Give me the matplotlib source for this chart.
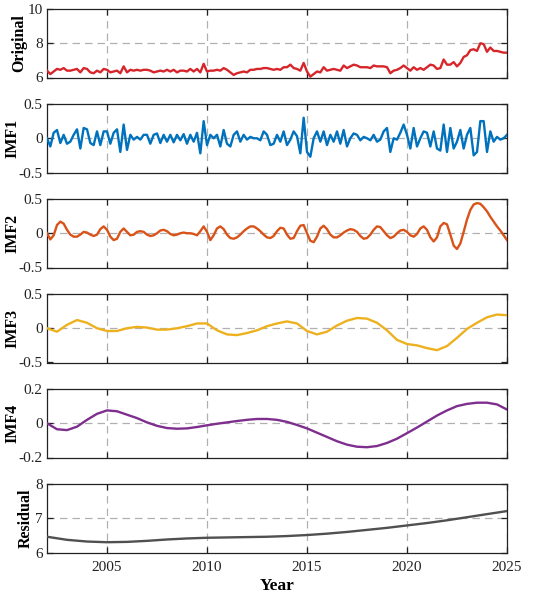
import numpy as np
import matplotlib
matplotlib.use('Agg')
import matplotlib.pyplot as plt

plt.rcParams['font.family'] = ['Liberation Serif', 'DejaVu Serif']

# Data (bimonthly for the fast series, coarser for the smooth ones)
original = [6.4, 6.2, 6.35, 6.5, 6.45, 6.55, 6.4, 6.4, 6.45, 6.5, 6.3, 6.55, 6.5, 6.3, 6.25, 6.4, 6.3, 6.5, 6.45,
            6.3, 6.35, 6.4, 6.25, 6.65, 6.3, 6.45, 6.4, 6.45, 6.4, 6.45, 6.45, 6.4, 6.3, 6.35, 6.4, 6.35, 6.45,
            6.35, 6.45, 6.3, 6.4, 6.4, 6.35, 6.5, 6.35, 6.5, 6.3, 6.8, 6.35,
            6.4, 6.4, 6.45, 6.4, 6.55, 6.45, 6.3, 6.15, 6.25, 6.3, 6.35, 6.3, 6.45, 6.45, 6.5, 6.5, 6.55, 6.55,
            6.5, 6.45, 6.5, 6.45, 6.6, 6.6, 6.75, 6.55, 6.5, 6.4, 6.85, 6.35,
            6.05, 6.2, 6.35, 6.3, 6.6, 6.4, 6.45, 6.5, 6.45, 6.4, 6.7, 6.55, 6.65, 6.75, 6.7, 6.6, 6.6, 6.6,
            6.55, 6.7, 6.65, 6.65, 6.65, 6.6, 6.25, 6.4, 6.45, 6.55, 6.7, 6.55,
            6.4, 6.6, 6.45, 6.55, 6.45, 6.6, 6.75, 6.7, 6.5, 6.55, 7.05, 6.75, 6.75, 6.9, 6.65, 6.85, 7.2, 7.3,
            7.6, 7.65, 7.55, 8.0, 7.95, 7.5, 7.75, 7.55, 7.55, 7.5, 7.45, 7.45]

imf1 = [0, -0.12, 0.08, 0.12, -0.07, 0.05, -0.08, -0.05, 0.05, 0.13,
        -0.15, 0.15, 0.13, -0.07, -0.1, 0.1, -0.1, 0.1, 0.1, -0.08,
        0.08, 0.13, -0.2, 0.2, -0.17, 0.05, -0.02, 0.02, -0.02, 0.05,
        0.05, -0.08, 0.05, 0.07, -0.07, 0.05, -0.05, 0.05, -0.06, 0.05,
        -0.03, 0.06, -0.08, 0.05, -0.05, 0.08, -0.22, 0.25, -0.1,
        0.05, 0.0, 0.05, -0.12, 0.12, -0.08, -0.12, 0.05, 0.1, -0.05,
        0.05, -0.02, 0.02, 0.0, 0.0, -0.03, 0.1, 0.05, -0.1, -0.08,
        0.05, -0.05, 0.1, -0.1, -0.02, 0.1, 0.03, -0.22, 0.3, -0.2,
        -0.27,
        0.0, 0.1, -0.05, 0.1, -0.1, 0.05, -0.05, 0.1, -0.08, 0.12,
        -0.12, 0.0, 0.07, 0.05, -0.03, 0.02, 0.0, -0.03, 0.05, -0.05,
        -0.02, 0.1, 0.15, -0.2, 0.0, -0.02, 0.08, 0.2, 0.05,
        -0.15, 0.15, -0.12, 0.0, 0.1, 0.08, -0.12, 0.1, -0.15, -0.18,
        0.2, -0.2, 0.15, -0.15, -0.05, 0.12, -0.15, 0.05, 0.15, -0.25,
        -0.2, 0.25, 0.25, -0.2, 0.1, -0.05, 0.02, -0.02, 0.0, 0.05]

imf2 = [0.0, -0.09, -0.03, 0.12, 0.17, 0.14, 0.05, -0.02, -0.05, -0.05,
        -0.02, 0.02, 0.01, -0.02, -0.04, -0.02, 0.06, 0.1, 0.05, -0.05,
        -0.1, -0.08, 0.02, 0.07, 0.02, -0.03, -0.02, 0.02, 0.03, 0.02,
        -0.02, -0.04, -0.03, 0.0, 0.04, 0.05, 0.03, -0.01, -0.03, -0.02,
        0.0, 0.01, 0.0, 0.0, -0.01, -0.03, 0.03, 0.1, 0.02, -0.1,
        -0.03, 0.07, 0.1, 0.06, -0.02, -0.07, -0.08, -0.06, -0.02, 0.03,
        0.07, 0.1, 0.1, 0.07, 0.03, -0.02, -0.06, -0.07, -0.04, 0.03,
        0.08, 0.07, -0.02, -0.08, -0.07, 0.03, 0.11, 0.12, 0.0, -0.11,
        -0.13, -0.05, 0.07, 0.11, 0.06, -0.02, -0.06, -0.06, -0.03, 0.01,
        0.04, 0.06, 0.05, 0.02, -0.04, -0.08, -0.07, -0.02, 0.05, 0.1,
        0.09, 0.03, -0.03, -0.07, -0.05, 0.0, 0.04, 0.05, 0.02, -0.03,
        -0.05, -0.01, 0.07, 0.1, 0.05, -0.06, -0.12, -0.06, 0.1, 0.15,
        0.13, -0.02, -0.18, -0.23, -0.15, 0.02, 0.2, 0.34, 0.42, 0.44,
        0.43, 0.38, 0.32, 0.24, 0.17, 0.1, 0.04, -0.03, -0.1]

# half-year steps
imf3 = [0.0, -0.05, 0.05, 0.12, 0.08, 0.0, -0.04, -0.04, 0.0, 0.02,
        0.01, -0.02, -0.02, 0.0, 0.03, 0.07, 0.07, -0.03, -0.09, -0.1,
        -0.07, -0.03, 0.03, 0.07, 0.1, 0.07, -0.04, -0.09, -0.05, 0.04,
        0.11, 0.15, 0.14, 0.08, -0.03, -0.17, -0.23, -0.25, -0.29, -0.32,
        -0.26, -0.14, -0.01, 0.08, 0.16, 0.2, 0.19]

imf4 = [0.0, -0.035, -0.04, -0.02, 0.02, 0.055, 0.075, 0.07, 0.05, 0.03,
        0.005, -0.015, -0.028, -0.032, -0.03, -0.022, -0.012, -0.003, 0.005, 0.013,
        0.02, 0.025, 0.025, 0.02, 0.008, -0.01, -0.03, -0.055, -0.08, -0.105,
        -0.125, -0.137, -0.14, -0.133, -0.115, -0.09, -0.058, -0.025, 0.01, 0.045,
        0.075, 0.1, 0.113, 0.12, 0.12, 0.11, 0.08]

# yearly steps
residual = [6.46, 6.37, 6.32, 6.30, 6.31, 6.34, 6.38, 6.41, 6.43, 6.44, 6.45, 6.46,
            6.48, 6.51, 6.55, 6.60, 6.66, 6.72, 6.79, 6.86, 6.94, 7.03, 7.12, 7.21]

names = ['Original', 'IMF1', 'IMF2', 'IMF3', 'IMF4', 'Residual']
series = [original, imf1, imf2, imf3, imf4, residual]
colors = ['#D7262B', '#0072BD', '#D95319', '#EDB120', '#7E2F8E', '#505050']
yticks = [[6, 8, 10], [-0.5, 0, 0.5], [-0.5, 0, 0.5], [-0.5, 0, 0.5], [-0.2, 0, 0.2], [6, 7, 8]]
yticklabels = [['6', '8', '10'], ['-0.5', '0', '0.5'], ['-0.5', '0', '0.5'], ['-0.5', '0', '0.5'],
               ['-0.2', '0', '0.2'], ['6', '7', '8']]
xticks = [2005, 2010, 2015, 2020, 2025]
t0, t1 = 2002, 2025

W, H = 550, 595
fig = plt.figure(figsize=(W / 100, H / 100), dpi=100)
tops = [9, 104, 199, 294, 389, 484]
left, right, ph = 47, 507, 68.5
dash = (0, (6, 4))
# ylabel offsets follow the tick label widths (MATLAB style)
label_x = [-0.042, -0.057, -0.057, -0.057, -0.057, -0.029]

for k in range(6):
    ax = fig.add_axes([left / W, 1 - (tops[k] + ph) / H, (right - left) / W, ph / H])
    y = series[k]
    x = t0 + np.arange(len(y)) * (t1 - t0) / (len(y) - 1)
    ax.plot(x, y, color=colors[k], lw=1.7, zorder=3)
    ax.set_xlim(t0, t1)
    ax.set_ylim(yticks[k][0], yticks[k][-1])
    ax.set_yticks(yticks[k])
    ax.set_yticklabels(yticklabels[k])
    ax.set_xticks(xticks)
    # dashed grid: vertical at the year ticks, horizontal only at the middle tick
    ax.grid(True, axis='x', ls=dash, color='#b0b0b0', lw=0.9, zorder=1)
    ax.axhline(yticks[k][1], ls=dash, color='#b0b0b0', lw=0.9, zorder=1)
    ax.tick_params(direction='in', top=True, right=True, length=4, width=0.9,
                   labelsize=11, colors='#222222')
    ax.tick_params(axis='y', pad=3)
    ax.tick_params(axis='x', pad=6)
    for s in ax.spines.values():
        s.set_color('#222222')
        s.set_linewidth(0.9)
    ax.set_ylabel(names[k], fontsize=11.5, fontweight='bold')
    ax.yaxis.set_label_coords(label_x[k], 0.5)
    if k < 5:
        ax.set_xticklabels([])
    else:
        ax.set_xticklabels([str(v) for v in xticks])
        ax.set_xlabel('Year', fontsize=12.5, fontweight='bold', labelpad=3)

fig.savefig('out.png', dpi=100)
